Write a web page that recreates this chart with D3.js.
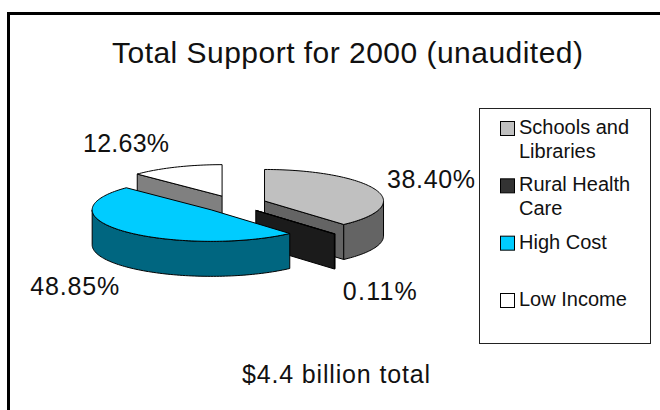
<!DOCTYPE html>
<html>
<head>
<meta charset="utf-8">
<script src="https://cdn.jsdelivr.net/npm/d3@7"></script>
<style>
  html, body { margin: 0; padding: 0; background: #fff; }
  svg { display: block; }
  text { font-family: "Liberation Sans", Arial, "DejaVu Sans", sans-serif; fill: #111; }
</style>
</head>
<body>
<div id="chart"></div>
<script>
// ---- data ----
const categories = ["Schools and Libraries", "Rural Health Care", "High Cost", "Low Income"];
const shares = [38.40, 0.11, 48.85, 12.63];
const legendLines = [["Schools and", "Libraries"], ["Rural Health", "Care"], ["High Cost"], ["Low Income"]];
const titleText = "Total Support for 2000 (unaudited)";
const footText = "$4.4 billion total";

// ---- styling ----
const topColors  = ["#c0c0c0", "#333333", "#00ccff", "#ffffff"];
const sideColors = ["#646464", "#1b1b1b", "#006680", "#808080"];

const W = 660, H = 410;
const svg = d3.select("#chart").append("svg").attr("width", W).attr("height", H);

// outer frame (runs off the right and bottom edges)
svg.append("path")
  .attr("d", "M8.5,420 V13.5 H670")
  .attr("fill", "none").attr("stroke", "#000").attr("stroke-width", 3);

// title
svg.append("text")
  .attr("x", 112).attr("y", 63)
  .attr("font-size", 30)
  .attr("textLength", 471).attr("lengthAdjust", "spacing")
  .text(titleText);

// ---- 3D exploded pie ----
const cx = 234.5, cy = 204, rx = 119, ry = 31.5, depth = 35, explode = 0.27;
const pie = d3.pie().sort(null).value(d => d).startAngle(0).endAngle(2 * Math.PI);
const arcs = pie(shares);

// angle measured clockwise from 12 o'clock, projected on a tilted ellipse
const proj = (sx, sy, a, dz) => [sx + rx * Math.sin(a), sy - ry * Math.cos(a) + dz];
const line = d3.line();
const sample = (a0, a1) => {
  const n = Math.max(2, Math.ceil(Math.abs(a1 - a0) / (Math.PI / 120)));
  return d3.range(n + 1).map(i => a0 + (a1 - a0) * i / n);
};

const geo = arcs.map((d, i) => {
  const mid = (d.startAngle + d.endAngle) / 2;
  return {
    i, d,
    sx: cx + explode * rx * Math.sin(mid),
    sy: cy - explode * ry * Math.cos(mid)
  };
});

// back-to-front drawing order
const drawOrder = [3, 0, 1, 2];
const pieG = svg.append("g").attr("stroke", "#000").attr("stroke-width", 1).attr("stroke-linejoin", "round");

drawOrder.forEach(k => {
  const g = geo[k];
  const a0 = g.d.startAngle, a1 = g.d.endAngle;
  const grp = pieG.append("g");

  // radial faces facing the viewer
  const faces = [];
  if (Math.cos(a0 - Math.PI / 2) < -1e-6) faces.push(a0);
  if (Math.cos(a1 + Math.PI / 2) < -1e-6) faces.push(a1);
  faces.forEach(a => {
    const pts = [[g.sx, g.sy], proj(g.sx, g.sy, a, 0), proj(g.sx, g.sy, a, depth), [g.sx, g.sy + depth]];
    grp.append("path").attr("d", line(pts) + "Z").attr("fill", sideColors[k]);
  });

  // outer curved side (front half only)
  const lo = Math.max(a0, Math.PI / 2), hi = Math.min(a1, 3 * Math.PI / 2);
  if (hi > lo) {
    const up = sample(lo, hi).map(a => proj(g.sx, g.sy, a, 0));
    const dn = sample(hi, lo).map(a => proj(g.sx, g.sy, a, depth));
    grp.append("path").attr("d", line(up.concat(dn)) + "Z").attr("fill", sideColors[k]);
  }

  // top face
  const topPts = [[g.sx, g.sy]].concat(sample(a0, a1).map(a => proj(g.sx, g.sy, a, 0)));
  grp.append("path").attr("d", line(topPts) + "Z").attr("fill", topColors[k]);
});

// ---- percentage labels (offset from each slice's centre) ----
const labelOffset = [[122.5, -12.5], [87, 89.5], [-181, 85], [-139, -44]];
const labelWidth = [88, 74, 89, 86];
const fmt = d3.format(".2f");
svg.append("g").selectAll("text").data(geo).join("text")
  .attr("x", g => g.sx + labelOffset[g.i][0])
  .attr("y", g => g.sy + labelOffset[g.i][1])
  .attr("font-size", 25)
  .attr("textLength", g => labelWidth[g.i]).attr("lengthAdjust", "spacing")
  .text(g => fmt(shares[g.i]) + "%");

// ---- legend ----
const legend = svg.append("g");
legend.append("rect")
  .attr("x", 479.5).attr("y", 108.5).attr("width", 171).attr("height", 235)
  .attr("fill", "#fff").attr("stroke", "#222").attr("stroke-width", 1);
const ly = d3.scaleLinear().domain([0, categories.length - 1]).range([121, 293]);
const items = legend.selectAll("g.item").data(categories).join("g").attr("class", "item")
  .attr("transform", (d, i) => `translate(500,${ly(i)})`);
items.append("rect")
  .attr("x", 0.5).attr("y", 0.5).attr("width", 14).attr("height", 14)
  .attr("fill", (d, i) => topColors[i]).attr("stroke", "#000").attr("stroke-width", 1);
items.each(function (d, i) {
  d3.select(this).selectAll("text").data(legendLines[i]).join("text")
    .attr("x", 19).attr("y", (t, j) => 13 + j * 24)
    .attr("font-size", 20)
    .text(t => t);
});

// footer
svg.append("text")
  .attr("x", 242).attr("y", 383)
  .attr("font-size", 25)
  .attr("textLength", 188).attr("lengthAdjust", "spacing")
  .text(footText);
</script>
</body>
</html>
